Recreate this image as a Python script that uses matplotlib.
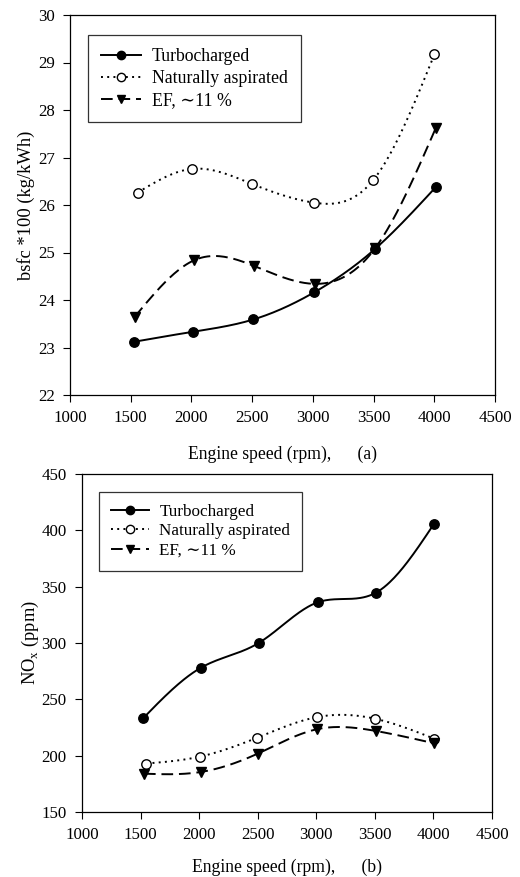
import numpy as np
import matplotlib
matplotlib.use("Agg")
import matplotlib.pyplot as plt
from matplotlib.lines import Line2D

plt.rcParams['font.family'] = ['Liberation Serif', 'DejaVu Serif']

# ---- data (a): bsfc*100 ----
a_turbo_x = [1526, 2010, 2510, 3010, 3510, 4010]
a_turbo_y = [23.12, 23.33, 23.59, 24.16, 25.07, 26.37]
a_na_x = [1556, 2003, 2502, 3006, 3499, 4001]
a_na_y = [26.26, 26.76, 26.44, 26.05, 26.53, 29.17]
a_ef_x = [1534, 2025, 2513, 3017, 3513, 4014]
a_ef_y = [23.65, 24.84, 24.72, 24.34, 25.09, 27.63]

# ---- data (b): NOx ----
b_turbo_x = [1521, 2016, 2508, 3012, 3510, 4002]
b_turbo_y = [233.1, 278.1, 300.0, 336.1, 344.7, 405.3]
b_na_x = [1549, 2005, 2497, 3010, 3501, 4008]
b_na_y = [193.0, 199.1, 216.0, 234.3, 232.8, 215.0]
b_ef_x = [1529, 2013, 2500, 3003, 3510, 4005]
b_ef_y = [184.0, 185.5, 201.8, 223.4, 221.9, 211.0]

labels = ["Turbocharged", "Naturally aspirated", "EF, \u223c11 %"]
xticks = [1000, 1500, 2000, 2500, 3000, 3500, 4000, 4500]


def spline(x, y, n=200):
    x = np.asarray(x, float)
    y = np.asarray(y, float)
    m = len(x)
    h = np.diff(x)
    A = np.zeros((m, m))
    r = np.zeros(m)
    A[0, 0] = 1
    A[-1, -1] = 1
    for i in range(1, m - 1):
        A[i, i - 1] = h[i - 1]
        A[i, i] = 2 * (h[i - 1] + h[i])
        A[i, i + 1] = h[i]
        r[i] = 6 * ((y[i + 1] - y[i]) / h[i] - (y[i] - y[i - 1]) / h[i - 1])
    M = np.linalg.solve(A, r)
    xs = np.linspace(x[0], x[-1], n)
    ys = np.empty_like(xs)
    for k, xv in enumerate(xs):
        i = min(np.searchsorted(x, xv) - 1, m - 2)
        i = max(i, 0)
        t1 = x[i + 1] - xv
        t0 = xv - x[i]
        ys[k] = (M[i] * t1**3 / (6 * h[i]) + M[i + 1] * t0**3 / (6 * h[i])
                 + (y[i] / h[i] - M[i] * h[i] / 6) * t1
                 + (y[i + 1] / h[i] - M[i + 1] * h[i] / 6) * t0)
    return xs, ys


styles = [
    dict(ls='-', marker='o', mfc='black', mec='black', ms=6.8),
    dict(ls=(0, (1, 2.2)), marker='o', mfc='white', mec='black', ms=6.8),
    dict(ls=(0, (6, 3)), marker='v', mfc='black', mec='black', ms=6.8),
]


def draw(ax, series):
    for (x, y), st in zip(series, styles):
        xs, ys = spline(x, y)
        ax.plot(xs, ys, color='black', lw=1.4, ls=st['ls'], zorder=2)
        ax.plot(x, y, ls='none', marker=st['marker'], mfc=st['mfc'],
                mec=st['mec'], ms=st['ms'], mew=1.0, zorder=3)
    handles = [Line2D([], [], color='black', lw=1.4, ls=st['ls'],
                      marker=st['marker'], mfc=st['mfc'], mec=st['mec'],
                      ms=6) for st in styles]
    return handles


fig = plt.figure(figsize=(5.2, 8.77), dpi=100)

ax1 = fig.add_axes([70 / 520, 1 - 395 / 877, 425 / 520, 380 / 877])
h = draw(ax1, [(a_turbo_x, a_turbo_y), (a_na_x, a_na_y), (a_ef_x, a_ef_y)])
ax1.set_xlim(1000, 4500)
ax1.set_ylim(22, 30)
ax1.set_xticks(xticks)
ax1.set_yticks(range(22, 31))
ax1.set_ylabel("bsfc *100 (kg/kWh)", fontsize=13.3, labelpad=2)
ax1.set_xlabel("Engine speed (rpm),      (a)", fontsize=12.7, labelpad=14)
leg1 = ax1.legend(h, labels, loc='upper left', bbox_to_anchor=(0.042, 0.947),
                  fontsize=12.8, frameon=True, fancybox=False, edgecolor='black',
                  handlelength=2.25, borderpad=0.75, labelspacing=0.27,
                  handletextpad=0.6, borderaxespad=0)
leg1.get_frame().set_linewidth(0.9)

ax2 = fig.add_axes([82 / 520, 1 - 812 / 877, 410 / 520, 338 / 877])
h = draw(ax2, [(b_turbo_x, b_turbo_y), (b_na_x, b_na_y), (b_ef_x, b_ef_y)])
ax2.set_xlim(1000, 4500)
ax2.set_ylim(150, 450)
ax2.set_xticks(xticks)
ax2.set_yticks(range(150, 451, 50))
ax2.set_ylabel("NO$_\\mathregular{x}$ (ppm)", fontsize=13.3, labelpad=0)
ax2.set_xlabel("Engine speed (rpm),      (b)", fontsize=12.7, labelpad=11)
leg2 = ax2.legend(h, labels, loc='upper left', bbox_to_anchor=(0.041, 0.947),
                  fontsize=12.3, frameon=True, fancybox=False, edgecolor='black',
                  handlelength=2.25, borderpad=0.7, labelspacing=0.2,
                  handletextpad=0.6, borderaxespad=0)
leg2.get_frame().set_linewidth(0.9)

for ax in (ax1, ax2):
    ax.tick_params(direction='out', length=5, width=0.8, labelsize=12.2,
                   top=False, right=False, pad=6)
    for s in ax.spines.values():
        s.set_linewidth(0.9)

fig.savefig("out.png", dpi=100)
